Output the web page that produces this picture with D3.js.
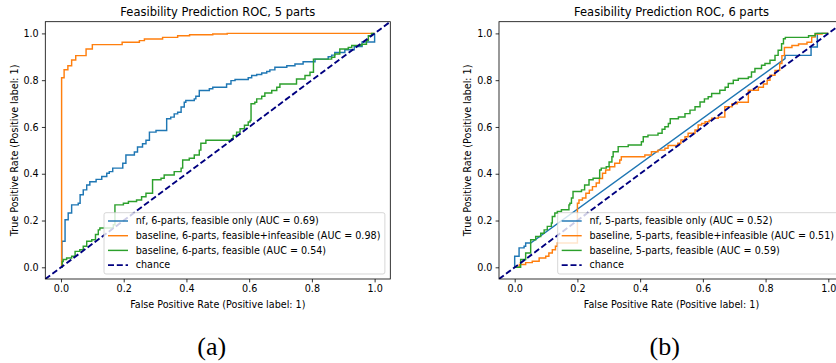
<!DOCTYPE html>
<html>
<head>
<meta charset="utf-8">
<script src="https://cdn.jsdelivr.net/npm/d3@7"></script>
<style>
  body { margin: 0; background: #fff; }
  svg { display: block; font-family: "DejaVu Sans", sans-serif; }
</style>
</head>
<body>
<div id="chart"></div>
<script>

// Tick values shared by both panels
const tickValues = [0, 0.2, 0.4, 0.6, 0.8, 1.0];

// chance line runs corner to corner of the axes
const chanceLine = [[-0.05, -0.05], [1.05, 1.05]];

// Panel (a): 5 parts
const titleA = "Feasibility Prediction ROC, 5 parts";
const labelsA = ["nf, 6-parts, feasible only (AUC = 0.69)",
                 "baseline, 6-parts, feasible+infeasible (AUC = 0.98)",
                 "baseline, 6-parts, feasible (AUC = 0.54)",
                 "chance"];

const nfA = [[0,0],[0.003,0],[0.003,0.111],[0.013,0.111],[0.013,0.203],[0.023,0.203],[0.023,0.232],[0.034,0.232],
  [0.034,0.267],[0.055,0.267],[0.055,0.274],[0.061,0.274],[0.061,0.31],[0.071,0.31],[0.071,0.331],[0.082,0.331],
  [0.082,0.352],[0.092,0.352],[0.092,0.366],[0.112,0.366],[0.112,0.376],[0.13,0.376],[0.13,0.388],[0.146,0.388],
  [0.146,0.402],[0.154,0.402],[0.154,0.409],[0.165,0.409],[0.165,0.424],[0.197,0.424],[0.197,0.445],[0.207,0.445],
  [0.207,0.48],[0.234,0.48],[0.234,0.493],[0.244,0.493],[0.244,0.514],[0.26,0.514],[0.26,0.528],[0.271,0.528],
  [0.271,0.543],[0.282,0.543],[0.282,0.578],[0.303,0.578],[0.303,0.585],[0.337,0.585],[0.337,0.635],[0.35,0.635],
  [0.35,0.642],[0.361,0.642],[0.361,0.656],[0.372,0.656],[0.372,0.663],[0.383,0.663],[0.383,0.685],[0.393,0.685],
  [0.393,0.706],[0.398,0.706],[0.398,0.713],[0.425,0.713],[0.425,0.72],[0.43,0.72],[0.43,0.731],[0.441,0.731],
  [0.441,0.756],[0.473,0.756],[0.473,0.763],[0.484,0.763],[0.484,0.77],[0.528,0.77],[0.528,0.784],[0.542,0.784],
  [0.542,0.798],[0.555,0.798],[0.555,0.803],[0.597,0.803],[0.597,0.81],[0.608,0.81],[0.608,0.82],[0.624,0.82],
  [0.624,0.824],[0.64,0.824],[0.64,0.831],[0.656,0.831],[0.656,0.837],[0.666,0.837],[0.666,0.844],[0.682,0.844],
  [0.682,0.855],[0.72,0.855],[0.72,0.862],[0.746,0.862],[0.746,0.869],[0.772,0.869],[0.772,0.879],[0.81,0.879],
  [0.81,0.89],[0.852,0.89],[0.852,0.9],[0.863,0.9],[0.863,0.907],[0.873,0.907],[0.873,0.918],[0.905,0.918],
  [0.905,0.93],[0.935,0.93],[0.935,0.944],[0.96,0.944],[0.96,0.963],[1,0.963],[1,1]];

const baseFiA = [[0,0],[0.002,0],[0.002,0.81],[0.01,0.81],[0.01,0.845],[0.022,0.845],[0.022,0.862],[0.034,0.862],
  [0.034,0.886],[0.047,0.886],[0.047,0.905],[0.08,0.905],[0.08,0.933],[0.1,0.933],[0.1,0.952],[0.195,0.952],
  [0.195,0.962],[0.25,0.962],[0.25,0.969],[0.266,0.969],[0.266,0.976],[0.324,0.976],[0.324,0.983],[0.372,0.983],
  [0.372,0.99],[0.41,0.99],[0.41,0.994],[0.484,0.994],[0.484,0.997],[0.53,0.997],[0.53,1],[1,1]];

const baseFA = [[0,0],[0.004,0],[0.004,0.025],[0.007,0.025],[0.007,0.033],[0.018,0.033],[0.018,0.04],[0.034,0.04],
  [0.034,0.047],[0.045,0.047],[0.045,0.068],[0.06,0.068],[0.06,0.075],[0.071,0.075],[0.071,0.09],[0.082,0.09],
  [0.082,0.111],[0.098,0.111],[0.098,0.118],[0.11,0.118],[0.11,0.14],[0.119,0.14],[0.119,0.16],[0.124,0.16],
  [0.124,0.168],[0.167,0.168],[0.167,0.182],[0.172,0.182],[0.172,0.267],[0.199,0.267],[0.199,0.274],[0.215,0.274],
  [0.215,0.281],[0.241,0.281],[0.241,0.288],[0.257,0.288],[0.257,0.302],[0.271,0.302],[0.271,0.317],[0.292,0.317],
  [0.292,0.374],[0.319,0.374],[0.319,0.381],[0.329,0.381],[0.329,0.395],[0.361,0.395],[0.361,0.409],[0.383,0.409],
  [0.383,0.424],[0.388,0.424],[0.388,0.459],[0.409,0.459],[0.409,0.466],[0.425,0.466],[0.425,0.48],[0.441,0.48],
  [0.441,0.501],[0.446,0.501],[0.446,0.53],[0.462,0.53],[0.462,0.543],[0.544,0.543],[0.544,0.55],[0.549,0.55],
  [0.549,0.564],[0.56,0.564],[0.56,0.578],[0.571,0.578],[0.571,0.592],[0.585,0.592],[0.585,0.607],[0.597,0.607],
  [0.597,0.621],[0.603,0.621],[0.603,0.628],[0.606,0.628],[0.606,0.699],[0.618,0.699],[0.618,0.706],[0.624,0.706],
  [0.624,0.72],[0.64,0.72],[0.64,0.731],[0.65,0.731],[0.65,0.745],[0.672,0.745],[0.672,0.756],[0.688,0.756],
  [0.688,0.77],[0.698,0.77],[0.698,0.784],[0.751,0.784],[0.751,0.805],[0.778,0.805],[0.778,0.82],[0.794,0.82],
  [0.794,0.834],[0.805,0.834],[0.805,0.89],[0.863,0.89],[0.863,0.898],[0.873,0.898],[0.873,0.912],[0.889,0.912],
  [0.889,0.933],[0.916,0.933],[0.916,0.94],[0.927,0.94],[0.927,0.948],[0.959,0.948],[0.959,0.954],[0.974,0.954],
  [0.974,0.969],[0.98,0.969],[0.98,0.99],[0.99,0.99],[0.99,1],[1,1]];

// Panel (b): 6 parts
const titleB = "Feasibility Prediction ROC, 6 parts";
const labelsB = ["nf, 5-parts, feasible only (AUC = 0.52)",
                 "baseline, 5-parts, feasible+infeasible (AUC = 0.51)",
                 "baseline, 5-parts, feasible (AUC = 0.59)",
                 "chance"];

const nfB = [[0,0],[0,0.047],[0.014,0.047],[0.014,0.083],[0.03,0.083],[0.03,0.09],[0.035,0.09],[0.035,0.104],
  [0.051,0.104],[0.862,0.892],[0.862,0.906],[0.945,0.906],[0.945,0.942],[0.965,0.942],[0.965,1],[1,1]];

const baseFiB = [[0,0],[0.015,0],[0.015,0.012],[0.035,0.012],[0.035,0.02],[0.056,0.02],[0.056,0.026],[0.078,0.026],
  [0.078,0.04],[0.099,0.04],[0.099,0.047],[0.109,0.047],[0.109,0.061],[0.12,0.061],[0.12,0.075],[0.13,0.075],
  [0.13,0.09],[0.136,0.09],[0.136,0.104],[0.2,0.104],[0.2,0.274],[0.205,0.274],[0.205,0.288],[0.216,0.288],
  [0.216,0.296],[0.227,0.296],[0.227,0.317],[0.238,0.317],[0.238,0.33],[0.248,0.33],[0.248,0.345],[0.26,0.345],
  [0.26,0.36],[0.27,0.36],[0.27,0.38],[0.28,0.38],[0.28,0.402],[0.29,0.402],[0.29,0.416],[0.303,0.416],
  [0.303,0.43],[0.319,0.43],[0.319,0.445],[0.335,0.445],[0.335,0.459],[0.34,0.459],[0.34,0.473],[0.415,0.473],
  [0.415,0.48],[0.436,0.48],[0.436,0.494],[0.457,0.494],[0.457,0.501],[0.479,0.501],[0.479,0.509],[0.489,0.509],
  [0.489,0.521],[0.52,0.521],[0.52,0.53],[0.53,0.53],[0.53,0.544],[0.543,0.544],[0.543,0.558],[0.553,0.558],
  [0.553,0.573],[0.575,0.573],[0.575,0.587],[0.585,0.587],[0.585,0.608],[0.596,0.608],[0.596,0.615],[0.607,0.615],
  [0.607,0.622],[0.62,0.622],[0.62,0.629],[0.628,0.629],[0.628,0.637],[0.649,0.637],[0.649,0.642],[0.67,0.642],
  [0.67,0.686],[0.693,0.686],[0.693,0.699],[0.71,0.699],[0.71,0.706],[0.745,0.706],[0.745,0.757],[0.777,0.757],
  [0.777,0.77],[0.793,0.77],[0.793,0.784],[0.805,0.784],[0.805,0.8],[0.814,0.8],[0.814,0.821],[0.83,0.821],
  [0.83,0.842],[0.845,0.842],[0.845,0.871],[0.852,0.871],[0.852,0.905],[0.86,0.905],[0.86,0.94],[0.884,0.94],
  [0.884,0.948],[0.905,0.948],[0.905,0.955],[0.932,0.955],[0.932,0.962],[0.947,0.962],[0.947,0.984],[0.958,0.984],
  [0.958,0.997],[0.98,0.997],[0.98,1],[1,1]];

const baseFB = [[0,0],[0.019,0],[0.019,0.033],[0.035,0.033],[0.035,0.061],[0.051,0.061],[0.051,0.118],[0.067,0.118],
  [0.067,0.132],[0.083,0.132],[0.083,0.146],[0.094,0.146],[0.094,0.16],[0.104,0.16],[0.104,0.175],[0.117,0.175],
  [0.117,0.189],[0.12,0.189],[0.12,0.217],[0.128,0.217],[0.128,0.232],[0.136,0.232],[0.136,0.239],[0.149,0.239],
  [0.149,0.246],[0.173,0.246],[0.173,0.267],[0.176,0.267],[0.176,0.274],[0.181,0.274],[0.181,0.296],[0.186,0.296],
  [0.186,0.324],[0.213,0.324],[0.213,0.331],[0.223,0.331],[0.223,0.352],[0.237,0.352],[0.237,0.374],[0.25,0.374],
  [0.25,0.381],[0.271,0.381],[0.271,0.416],[0.276,0.416],[0.276,0.424],[0.292,0.424],[0.292,0.43],[0.301,0.43],
  [0.301,0.45],[0.31,0.45],[0.31,0.473],[0.314,0.473],[0.314,0.494],[0.33,0.494],[0.33,0.516],[0.362,0.516],
  [0.362,0.523],[0.404,0.523],[0.404,0.537],[0.41,0.537],[0.41,0.558],[0.425,0.558],[0.425,0.565],[0.457,0.565],
  [0.457,0.573],[0.47,0.573],[0.47,0.59],[0.479,0.59],[0.479,0.601],[0.49,0.601],[0.49,0.615],[0.496,0.615],
  [0.496,0.635],[0.522,0.635],[0.522,0.643],[0.543,0.643],[0.543,0.657],[0.559,0.657],[0.559,0.672],[0.575,0.672],
  [0.575,0.686],[0.591,0.686],[0.591,0.707],[0.605,0.707],[0.605,0.72],[0.617,0.72],[0.617,0.729],[0.628,0.729],
  [0.628,0.743],[0.654,0.743],[0.654,0.757],[0.671,0.757],[0.671,0.77],[0.681,0.77],[0.681,0.786],[0.697,0.786],
  [0.697,0.8],[0.713,0.8],[0.713,0.807],[0.745,0.807],[0.745,0.814],[0.755,0.814],[0.755,0.835],[0.766,0.835],
  [0.766,0.85],[0.787,0.85],[0.787,0.864],[0.798,0.864],[0.798,0.871],[0.814,0.871],[0.814,0.885],[0.83,0.885],
  [0.83,0.906],[0.84,0.906],[0.84,0.928],[0.851,0.928],[0.851,0.956],[0.857,0.956],[0.857,0.977],[0.863,0.977],
  [0.863,0.983],[0.937,0.983],[0.937,0.99],[0.958,0.99],[0.958,1],[1,1]];

const colors = ["#1f77b4", "#ff7f0e", "#2ca02c", "#000080"];

// figure size and axes box
const width = 836;
const height = 363;
const plotW = 345;
const plotTop = 21.7;
const plotBottom = 279;
const fontSize = 9.6;

const svg = d3.select("#chart")
  .append("svg")
  .attr("width", width)
  .attr("height", height);

function drawPanel(id, left, title, curves, labels, tag, tagX) {

  const x = d3.scaleLinear().domain([-0.05, 1.05]).range([left, left + plotW]);
  const y = d3.scaleLinear().domain([-0.05, 1.05]).range([plotBottom, plotTop]);

  const g = svg.append("g");

  g.append("clipPath")
    .attr("id", "clip-" + id)
    .append("rect")
    .attr("x", left).attr("y", plotTop)
    .attr("width", plotW).attr("height", plotBottom - plotTop);

  // x axis
  const xAxis = g.append("g")
    .attr("transform", `translate(0,${plotBottom})`)
    .call(d3.axisBottom(x).tickValues(tickValues).tickFormat(d3.format(".1f"))
      .tickSize(3.4).tickPadding(3.2));
  // y axis
  const yAxis = g.append("g")
    .attr("transform", `translate(${left},0)`)
    .call(d3.axisLeft(y).tickValues(tickValues).tickFormat(d3.format(".1f"))
      .tickSize(3.4).tickPadding(3.2));

  [xAxis, yAxis].forEach(a => {
    a.select(".domain").remove();
    a.selectAll("line").attr("stroke", "#000").attr("stroke-width", 0.8);
    a.selectAll("text").attr("fill", "#000")
      .style("font-family", "DejaVu Sans").style("font-size", fontSize + "px");
  });

  // curves
  const line = d3.line().x(d => x(d[0])).y(d => y(d[1]));
  const plot = g.append("g").attr("clip-path", `url(#clip-${id})`);

  curves.forEach((c, i) => {
    plot.append("path")
      .attr("d", line(c))
      .attr("fill", "none")
      .attr("stroke", colors[i])
      .attr("stroke-width", 1.45)
      .attr("stroke-linejoin", "miter");
  });

  plot.append("path")
    .attr("d", line(chanceLine))
    .attr("fill", "none")
    .attr("stroke", colors[3])
    .attr("stroke-width", 1.9)
    .attr("stroke-dasharray", "6,2.8");

  // frame
  g.append("rect")
    .attr("x", left).attr("y", plotTop)
    .attr("width", plotW).attr("height", plotBottom - plotTop)
    .attr("fill", "none")
    .attr("stroke", "#000")
    .attr("stroke-width", 0.8);

  // legend
  const lg = g.append("g").attr("transform", `translate(${left + 58.7},212.7)`);
  const box = lg.append("rect")
    .attr("rx", 2).attr("ry", 2)
    .attr("height", 61.3)
    .attr("fill", "#fff").attr("fill-opacity", 0.8)
    .attr("stroke", "#cccccc").attr("stroke-width", 0.8);

  let maxLen = 0;
  labels.forEach((lab, i) => {
    const ly = 8.3 + i * 14.7;
    lg.append("line")
      .attr("x1", 4).attr("x2", 24)
      .attr("y1", ly).attr("y2", ly)
      .attr("stroke", colors[i])
      .attr("stroke-width", i === 3 ? 1.9 : 1.45)
      .attr("stroke-dasharray", i === 3 ? "6,2.8" : null);
    const t = lg.append("text")
      .attr("x", 31.7).attr("y", ly)
      .attr("dy", "0.35em")
      .style("font-size", fontSize + "px")
      .attr("fill", "#000")
      .text(lab);
    maxLen = Math.max(maxLen, t.node().getComputedTextLength());
  });
  box.attr("width", 31.7 + maxLen + 4.5);

  // title and axis labels
  g.append("text")
    .attr("x", left + plotW / 2).attr("y", 16)
    .attr("text-anchor", "middle")
    .style("font-size", "11.5px")
    .text(title);

  g.append("text")
    .attr("x", x(0.5)).attr("y", 308)
    .attr("text-anchor", "middle")
    .style("font-size", fontSize + "px")
    .text("False Positive Rate (Positive label: 1)");

  g.append("text")
    .attr("transform", `translate(${left - 31},${(plotTop + plotBottom) / 2}) rotate(-90)`)
    .attr("text-anchor", "middle")
    .attr("dy", "0.35em")
    .style("font-size", fontSize + "px")
    .text("True Positive Rate (Positive label: 1)");

  // sub-figure tag
  g.append("text")
    .attr("x", tagX).attr("y", 346)
    .attr("dy", "0.35em")
    .attr("text-anchor", "middle")
    .style("font-family", "Liberation Serif, serif")
    .style("font-size", "26px")
    .text(tag);
}

drawPanel("a", 45.3, titleA, [nfA, baseFiA, baseFA], labelsA, "(a)", 211.7);
drawPanel("b", 499, titleB, [nfB, baseFiB, baseFB], labelsB, "(b)", 664.7);

</script>
</body>
</html>
